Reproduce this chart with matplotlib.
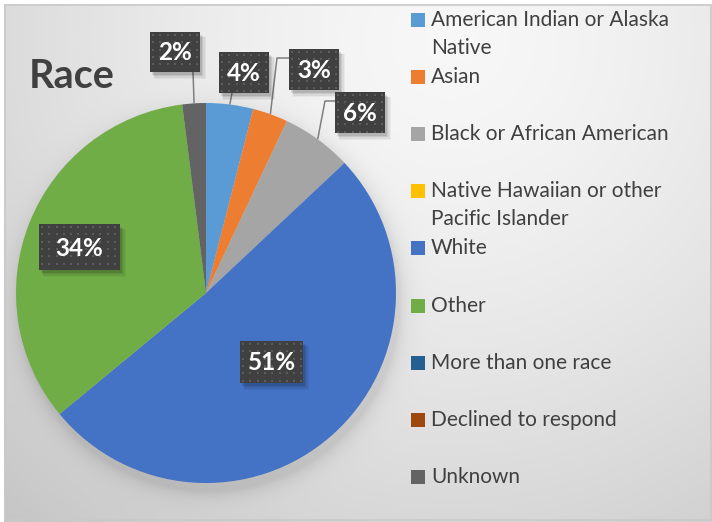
import textwrap
import numpy as np
import matplotlib
matplotlib.use("Agg")
import matplotlib.pyplot as plt
from matplotlib.patches import Rectangle

# ---- data -------------------------------------------------------------
categories = [
    "American Indian or Alaska Native",
    "Asian",
    "Black or African American",
    "Native Hawaiian or other Pacific Islander",
    "White",
    "Other",
    "More than one race",
    "Declined to respond",
    "Unknown",
]
percentages = [4, 3, 6, 0, 51, 34, 0, 0, 2]
colors = ["#5B9BD5", "#ED7D31", "#A5A5A5", "#FFC000", "#4472C4",
          "#70AD47", "#255E91", "#9E480E", "#636363"]
title = "Race"

# ---- layout (pixels, y measured downward) -------------------------------
W, H, DPI = 712, 522, 100
CX, CY, R = 206, 293, 190
FONT = "Lato"
TEXT_COLOR = "#404040"

# data-label boxes: (left, top, width, height) and leader elbow points
label_layout = {
    8: dict(box=(150, 32, 50, 40), leader=[(193, 72)]),
    0: dict(box=(219, 52, 50, 41), leader=[(232, 93)]),
    1: dict(box=(289, 49, 50, 41), leader=[(289, 58), (277, 58)]),
    2: dict(box=(335, 92, 50, 41), leader=[(335, 101), (325, 101)]),
    5: dict(box=(39, 224, 81, 46), leader=None),
    4: dict(box=(240, 341, 63, 42), leader=None),
}

fig = plt.figure(figsize=(W / DPI, H / DPI), dpi=DPI)

# ---- background with gradient and soft pie shadow ----------------------
bg = fig.add_axes([0, 0, 1, 1], zorder=0)
bg.set_xlim(0, W)
bg.set_ylim(H, 0)
bg.axis("off")

yy, xx = np.mgrid[0:H, 0:W] + 0.5
dist = np.hypot(xx - 450, yy - 40)
shade = 0.97 - 0.19 * (dist / 640) ** 1.5
ds = np.hypot(xx - (CX + 3), yy - (CY + 8))
shade -= 0.10 * np.exp(-np.clip(ds - R, 0, None) / 9.0)
shade[(xx < 4.5) | (yy < 4.5)] = 1.0
shade = np.clip(shade, 0, 1)
bg.imshow(np.dstack([shade] * 3), extent=(0, W, H, 0),
          interpolation="bilinear", aspect="auto", zorder=0)
bg.add_patch(Rectangle((4.5, 4.5), W - 5.5, H - 6.5, fill=False,
                       edgecolor="#c9c9c9", linewidth=1.2, zorder=1))

# ---- pie --------------------------------------------------------------
pax = fig.add_axes([(CX - 200) / W, (H - CY - 200) / H, 400 / W, 400 / H],
                   zorder=1)
wedges, _ = pax.pie(percentages, colors=colors, startangle=90,
                    counterclock=False, radius=1.0,
                    wedgeprops=dict(linewidth=0))
pax.set_xlim(-200 / R, 200 / R)
pax.set_ylim(-200 / R, 200 / R)
pax.set_aspect("equal")

# ---- overlay: title, data labels, legend --------------------------------
ov = fig.add_axes([0, 0, 1, 1], zorder=2)
ov.set_xlim(0, W)
ov.set_ylim(H, 0)
ov.axis("off")
ov.patch.set_alpha(0)

ov.text(29, 88, title, fontsize=28.5, fontweight="bold", color=TEXT_COLOR,
        family=FONT, va="baseline", ha="left")


def edge_point(wedge):
    mid = np.deg2rad((wedge.theta1 + wedge.theta2) / 2.0)
    return CX + R * np.cos(mid), CY - R * np.sin(mid)


for idx, spec in label_layout.items():
    left, top, bw, bh = spec["box"]
    if spec["leader"]:
        pts = list(spec["leader"]) + [edge_point(wedges[idx])]
        ov.plot([p[0] for p in pts], [p[1] for p in pts], color="#7f7f7f",
                linewidth=1.1, solid_capstyle="butt", zorder=3)
    # blurred drop shadow
    for k, a in enumerate([0.10, 0.08, 0.06, 0.04]):
        ov.add_patch(Rectangle((left + 2 + k * 0.8, top + 3 + k * 0.8),
                               bw + k * 0.6, bh + k * 0.6,
                               facecolor="black", alpha=a, linewidth=0,
                               zorder=4))
    ov.add_patch(Rectangle((left, top), bw, bh, facecolor="#404040",
                           linewidth=0, zorder=5))
    gx, gy = np.meshgrid(np.arange(left + 3, left + bw - 1, 7.3),
                         np.arange(top + 3, top + bh - 1, 7.3))
    ov.scatter(gx.ravel(), gy.ravel(), s=1.6, marker="s", color="#5c5c5c",
               linewidths=0, zorder=6)
    ov.text(left + bw / 2, top + bh / 2 + 1, f"{percentages[idx]}%",
            fontsize=17.5, fontweight="bold", color="white", family=FONT,
            ha="center", va="center", zorder=7)

# legend
LEG_X, LEG_Y0, LEG_STEP, LINE_H = 411, 20, 57.1, 28
for i, (name, col) in enumerate(zip(categories, colors)):
    y = LEG_Y0 + LEG_STEP * i
    ov.add_patch(Rectangle((LEG_X, y - 7), 14, 14, facecolor=col,
                           linewidth=0, zorder=5))
    for j, line in enumerate(textwrap.wrap(name, width=25)):
        ov.text(LEG_X + 20, y + j * LINE_H, line, fontsize=15,
                color=TEXT_COLOR, family=FONT, ha="left", va="center",
                zorder=5)

fig.savefig("out.png", dpi=DPI)
